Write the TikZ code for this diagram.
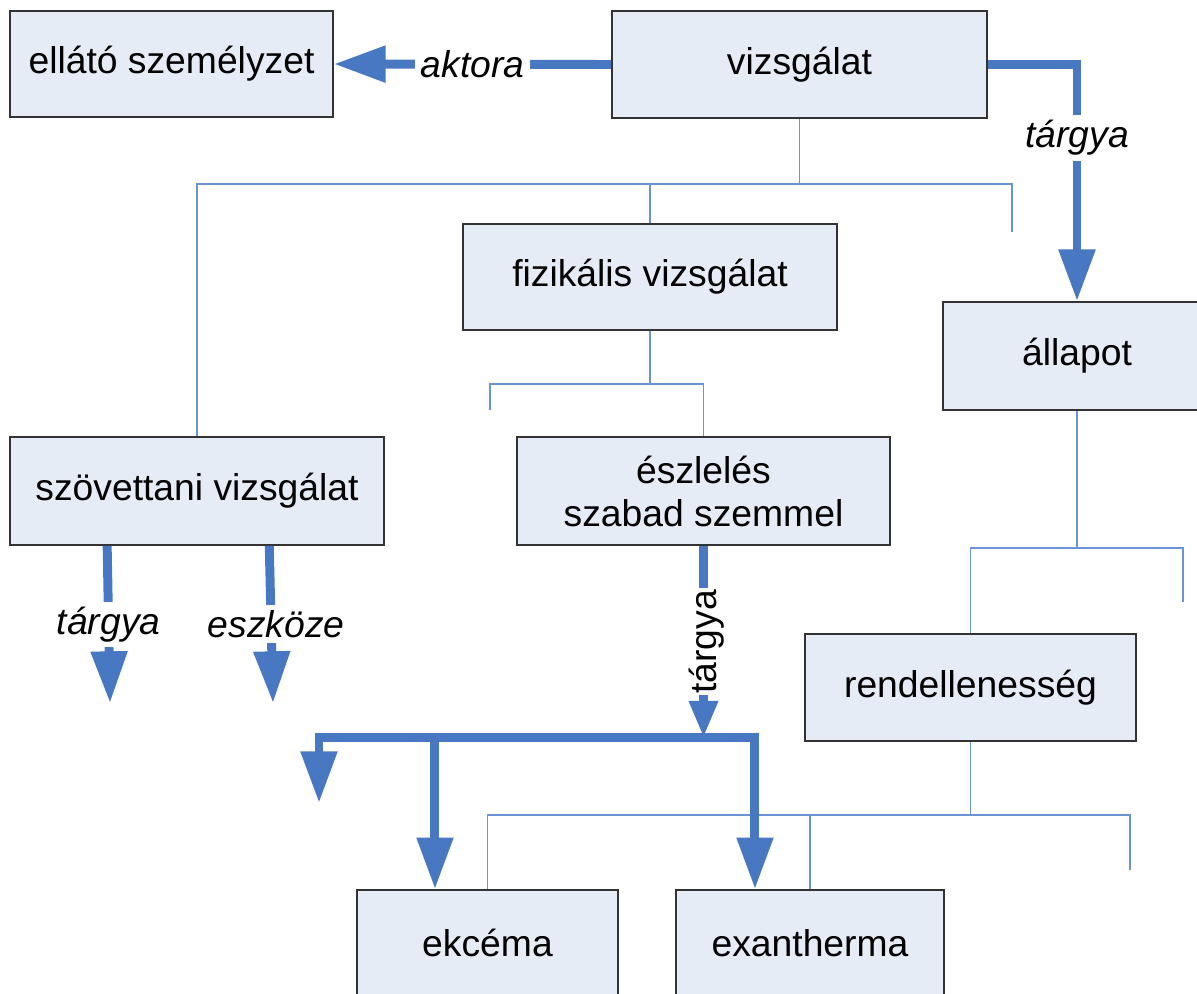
\documentclass[tikz,border=0pt]{standalone}
\usepackage{fontspec}
\setmainfont{Liberation Sans}
\usetikzlibrary{arrows.meta,positioning}
\definecolor{boxfill}{HTML}{E6ECF6}
\definecolor{boxline}{HTML}{333333}
\definecolor{rel}{HTML}{4878C2}
\definecolor{isa}{HTML}{6A93D4}
\tikzset{
  box/.style={draw=boxline, fill=boxfill, line width=0.45pt, inner sep=0pt, align=center,
    font=\fontsize{10.6}{12.2}\selectfont},
  relarr/.style={draw=rel, line width=2.55pt, -{Triangle[length=14.7pt,width=9.9pt]}},
  relsmall/.style={draw=rel, line width=2.55pt, -{Triangle[length=10.5pt,width=7.7pt]}},
  tree/.style={draw=isa, line width=0.45pt},
  lab/.style={fill=white, inner sep=1.5pt, font=\fontsize{10.6}{12}\selectfont\itshape},
  labv/.style={fill=white, inner sep=0.5pt, rotate=90, font=\fontsize{10.6}{12}\selectfont},
}

\begin{document}
\begin{tikzpicture}[x=0.01cm, y=-0.01cm]
  \useasboundingbox (0,0) rectangle (1197,993);
  \node[box, minimum width=3.23cm, minimum height=1.06cm] (ell) at (171.5,64) {ellátó személyzet};
  \node[box, minimum width=3.75cm, minimum height=1.07cm] (vizs) at (799.5,64.5) {vizsgálat};
  \node[box, minimum width=3.74cm, minimum height=1.06cm] (fiz) at (650,277) {fizikális vizsgálat};
  \node[box, minimum width=2.68cm, minimum height=1.08cm] (all) at (1077,356) {állapot};
  \node[box, minimum width=3.74cm, minimum height=1.08cm] (szov) at (197,491) {szövettani vizsgálat};
  \node[box, minimum width=3.73cm, minimum height=1.08cm] (eszl) at (703.5,491) {észlelés\\szabad szemmel};
  \node[box, minimum width=3.31cm, minimum height=1.07cm] (rend) at (970.5,687.5) {rendellenesség};
  \node[box, minimum width=2.61cm, minimum height=1.06cm] (ekc) at (487.5,943) {ekcéma};
  \node[box, minimum width=2.68cm, minimum height=1.06cm] (exa) at (810,943) {exantherma};

  \coordinate (t1) at (799.5,184);
  \coordinate (t2) at (650,384);
  \coordinate (t3) at (1077,548);
  \coordinate (t4) at (970.5,815);
  \draw[tree] (vizs.south) -- (t1);
  \draw[tree] (t1) -| (szov.north);
  \draw[tree] (t1) -| (fiz.north);
  \draw[tree] (t1) -| ++(212.5,48);
  \draw[tree] (fiz.south) -- (t2);
  \draw[tree] (t2) -| (eszl.north);
  \draw[tree] (t2) -| ++(-160,26);
  \draw[tree] (all.south) -- (t3);
  \draw[tree] (t3) -| (rend.north);
  \draw[tree] (t3) -| ++(106,54);
  \draw[tree] (rend.south) -- (t4);
  \draw[tree] (t4) -| (ekc.north);
  \draw[tree] (t4) -| (exa.north);
  \draw[tree] (t4) -| ++(159.5,55);

  \draw[relarr] (vizs.west) -- node[lab] {aktora} (ell.east);
  \draw[relarr] (vizs.east) -| node[lab, pos=0.655] {tárgya} (all.north);
  \coordinate (s1) at (110,703);
  \coordinate (s2) at (273,703);
  \draw[relarr] ([xshift=0.98cm]szov.south west) -- node[lab] {tárgya} (s1);
  \draw[relarr] ([xshift=2.6cm]szov.south west) -- node[lab, xshift=0.05cm] {eszköze} (s2);
  \draw[relsmall] (eszl.south) -- node[labv, yshift=-1pt] {tárgya} ++(0,192) coordinate (j);
  \coordinate (d) at (319,803);
  \draw[relarr] (j) -| (d);
  \draw[relarr] (j) -| ([xshift=-0.525cm]ekc.north);
  \draw[relarr] (j) -| ([xshift=-0.55cm]exa.north);
\end{tikzpicture}
\end{document}
